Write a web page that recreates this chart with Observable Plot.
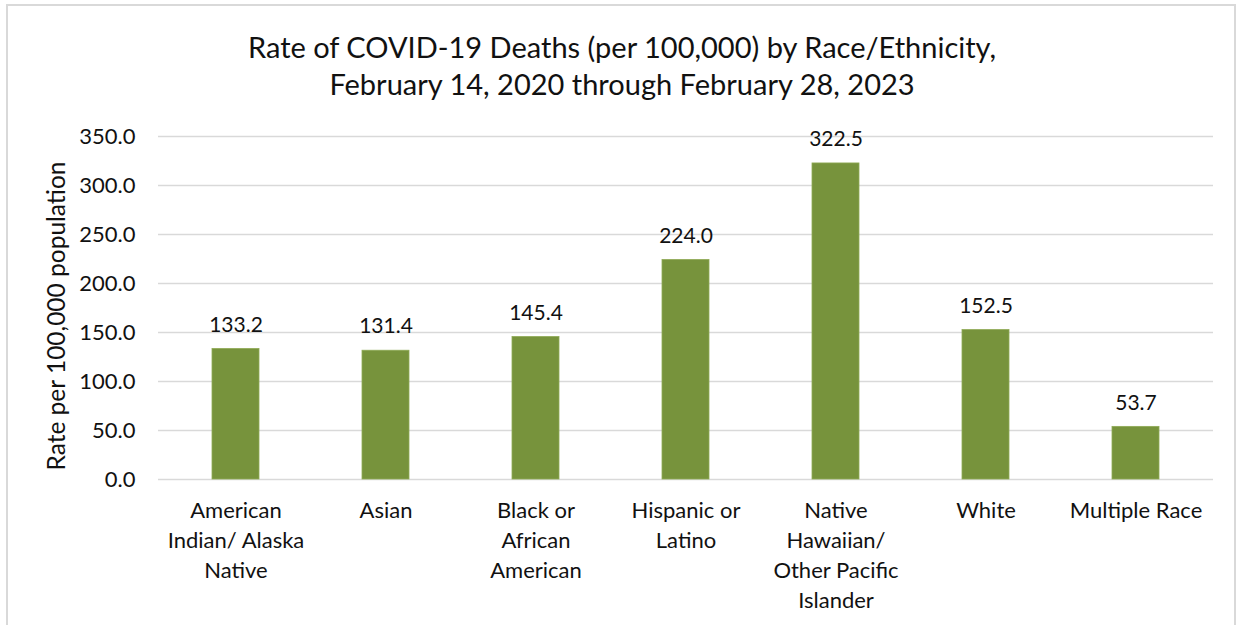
<!DOCTYPE html>
<html>
<head>
<meta charset="utf-8">
<script src="https://cdn.jsdelivr.net/npm/d3@7"></script>
<script src="https://cdn.jsdelivr.net/npm/@observablehq/plot@0.6"></script>
<style>
  html, body { margin: 0; padding: 0; background: #fff; overflow: hidden; }
  #page { position: relative; width: 1244px; height: 625px; font-family: Lato, sans-serif; }
  #frame { position: absolute; left: 6px; top: 4px; width: 1230px; height: 640px; border: 2px solid #d9d9d9; box-sizing: border-box; }
  #title { position: absolute; left: 0; width: 1244px; top: 28px; text-align: center; font-size: 29px; line-height: 37px; color: #111; }
  #chart { position: absolute; left: 0; top: 0; }
</style>
</head>
<body>
<div id="page">
  <div id="frame"></div>
  <div id="chart"></div>
  <div id="title">Rate of COVID-19 Deaths (per 100,000) by Race/Ethnicity,<br>February 14, 2020 through February 28, 2023</div>
</div>
<script>
const categories = [
  "American\nIndian/ Alaska\nNative",
  "Asian",
  "Black or\nAfrican\nAmerican",
  "Hispanic or\nLatino",
  "Native\nHawaiian/\nOther Pacific\nIslander",
  "White",
  "Multiple Race"
];
const rates = [133.2, 131.4, 145.4, 224.0, 322.5, 152.5, 53.7];
const yTicks = [0, 50, 100, 150, 200, 250, 300, 350];
const yLabel = "Rate per 100,000 population";

const data = categories.map((c, i) => ({category: c, rate: rates[i]}));
const fmt = d3.format(".1f");

const chart = Plot.plot({
  width: 1244,
  height: 625,
  marginLeft: 158,
  marginRight: 31,
  marginTop: 136,
  marginBottom: 146,
  style: { fontFamily: "Lato, sans-serif", background: "transparent", overflow: "visible" },
  x: { domain: categories, paddingInner: 0.688, paddingOuter: 0.344, axis: null },
  y: { domain: [0, 350], axis: null },
  marks: [
    Plot.ruleY(yTicks, { stroke: "#d9d9d9", strokeWidth: 1.5 }),
    Plot.barY(data, { x: "category", y: "rate", fill: "#77933c", stroke: "#8faa55", strokeWidth: 0.8 }),
    Plot.text(data, { x: "category", y: "rate", text: d => fmt(d.rate), dy: -24, fontSize: 21, fill: "#111" }),
    Plot.text(data, { x: "category", text: "category", frameAnchor: "bottom", lineAnchor: "top", dy: 17, fontSize: 22, lineHeight: 1.37, fill: "#111" }),
    Plot.text(yTicks, { y: d => d, text: d => fmt(d), frameAnchor: "left", textAnchor: "end", dx: -23, fontSize: 22, fill: "#111" }),
    Plot.text([yLabel], { text: d => d, frameAnchor: "left", textAnchor: "middle", rotate: -90, dx: -101, dy: 8, fontSize: 24.5, fill: "#111" })
  ]
});
document.getElementById("chart").appendChild(chart);
</script>
</body>
</html>
